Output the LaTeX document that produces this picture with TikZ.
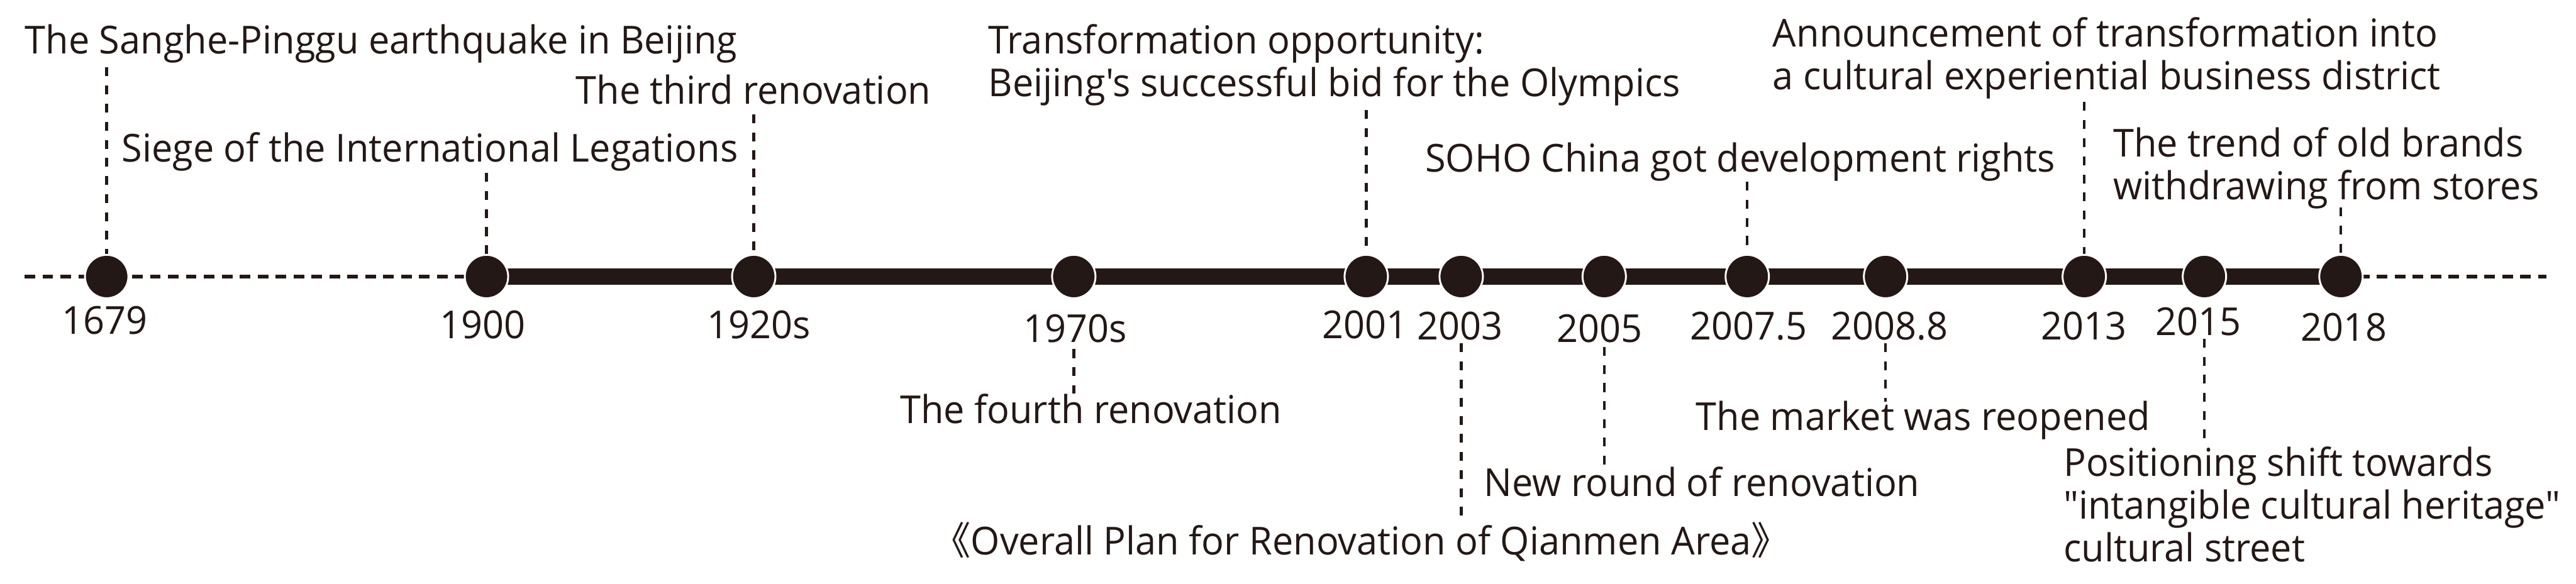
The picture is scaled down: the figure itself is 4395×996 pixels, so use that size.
\documentclass[tikz,border=0pt]{standalone}
\usepackage{fontspec}
\setmainfont{Open Sans}[Ligatures=TeXOff, FakeStretch=0.97]
\newfontfamily\cjk{Noto Sans CJK SC}
\definecolor{ink}{RGB}{35,24,21}
\newcommand\lblfont{\fontsize{18.7}{20.8}\selectfont}
\begin{document}
\begin{tikzpicture}[x=0.01cm,y=-0.01cm,
  lbl/.style={inner sep=0, anchor=base west, font=\lblfont, text=ink, align=left},
  yr/.style={inner sep=0, anchor=base, font=\lblfont, text=ink},
  conn/.style={draw=ink, line width=1.3pt, dash pattern=on 4.3pt off 4.5pt},
  base/.style={draw=ink, line width=1.7pt, dash pattern=on 5.1pt off 3.6pt},
  bar/.style={draw=ink, line width=7.7pt},
  dot/.style={circle, fill=ink, draw=white, line width=0.9pt, minimum size=0.74cm, inner sep=0}]
\useasboundingbox (0,0) rectangle (4395,996);
% timeline coordinates
\coordinate (L) at (42,472);
\coordinate (R) at (4345,472);
\foreach \n/\x in {c1679/182,c1900/830,c1920/1286,c1970/1832,c2001/2331,c2003/2493,c2005/2737,c20075/2981,c20088/3217,c2013/3556,c2015/3761,c2018/3994}
  \coordinate (p\n) at (\x,472);
\draw[base] (L) -- (pc1900);
\draw[base] (pc2018) -- (R);
\draw[bar] (pc1900) -- (pc2018);
% connector free ends
\coordinate (k1679) at (182,115);
\coordinate (k1900) at (830,295);
\coordinate (k1920) at (1286,195);
\coordinate (k2001) at (2331,188);
\coordinate (k20075) at (2981,310);
\coordinate (k2013) at (3556,174);
\coordinate (k2018) at (3994,354);
\coordinate (j1970a) at (1832,596);  \coordinate (j1970b) at (1832,672);
\coordinate (j2003a) at (2493,586);  \coordinate (j2003b) at (2493,884);
\coordinate (j2005a) at (2737,592);  \coordinate (j2005b) at (2737,797);
\coordinate (j20088a) at (3217,586); \coordinate (j20088b) at (3217,686);
\coordinate (j2015a) at (3761,578);  \coordinate (j2015b) at (3761,751);
\foreach \k in {1679,1900,1920,2001,20075,2013,2018}
  \draw[conn] (k\k) -- (pc\k);
\foreach \k in {1970,2003,2005,20088,2015}
  \draw[conn] (j\k a) -- (j\k b);
% dots
\foreach \k in {1679,1900,1920,1970,2001,2003,2005,20075,20088,2013,2015,2018}
  \node[dot] (c\k) at (pc\k) {};
% years
\node[yr] (y1679) at (179,570) {1679};
\node[yr] (y1900) at (823,578) {1900};
\node[yr] (y1920) at (1295,578) {1920s};
\node[yr] (y1970) at (1834,584) {1970s};
\node[yr] (y2001) at (2329,578) {2001};
\node[yr] (y2003) at (2491,580) {2003};
\node[yr] (y2005) at (2729,584) {2005};
\node[yr] (y20075) at (2983,580) {2007.5};
\node[yr] (y20088) at (3224,580) {2008.8};
\node[yr] (y2013) at (3555,580) {2013};
\node[yr] (y2015) at (3751,572) {2015};
\node[yr] (y2018) at (3999,582) {2018};
% top labels (multi-line nodes are placed by their last baseline)
\node[lbl] (t1) at (42,92) {The Sanghe-Pinggu earthquake in Beijing};
\node[lbl] (t2) at (207,276) {Siege of the International Legations};
\node[lbl] (t3) at (982,178) {The third renovation};
\node[lbl] (t4) at (1686,165) {Transformation opportunity:\\Beijing's successful bid for the Olympics};
\node[lbl] (t5) at (2431,293) {SOHO China got development rights};
\node[lbl] (t6) at (3024,153) {Announcement of transformation into\\a cultural experiential business district};
\node[lbl] (t7) at (3605,341) {The trend of old brands\\withdrawing from stores};
% bottom labels
\node[lbl] (b1) at (1535,723) {The fourth renovation};
\node[lbl] (b2) at (2531,847) {New round of renovation};
\node[lbl] (b3) at (1590,947) {{\cjk 《}Overall Plan for Renovation of Qianmen Area{\cjk 》}};
\node[lbl] (b4) at (2893,734) {The market was reopened};
\node[lbl] (b5) at (3520,959) {Positioning shift towards\\"intangible cultural heritage"\\cultural street};
\end{tikzpicture}
\end{document}
